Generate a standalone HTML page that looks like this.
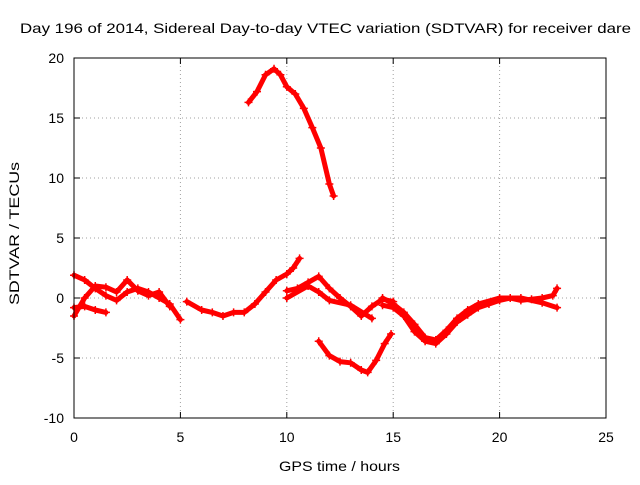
<!DOCTYPE html>
<html><head><meta charset="utf-8"><style>
body{margin:0;background:#fff}
svg text{font-family:"Liberation Sans",sans-serif;font-size:14px;fill:#000}
</style></head><body>
<svg id="chart" width="640" height="480" xmlns="http://www.w3.org/2000/svg">
<rect width="640" height="480" fill="#fff"/>
<text x="20" y="33" textLength="611" lengthAdjust="spacingAndGlyphs">Day 196 of 2014, Sidereal Day-to-day VTEC variation (SDTVAR) for receiver dare</text>
<g id="grid"></g><g id="series"></g><g id="axes"></g>
<text x="279" y="471" textLength="121" lengthAdjust="spacingAndGlyphs">GPS time / hours</text>
<text transform="translate(19,305) rotate(-90)" textLength="143" lengthAdjust="spacingAndGlyphs">SDTVAR / TECUs</text>
</svg>
<script>
const xTicks=[0,5,10,15,20,25];
const yTicks=[-10,-5,0,5,10,15,20];
const seriesX=[
[8.2,8.6,9,9.4,9.7,10,10.4,10.8,11.2,11.6,12,12.2],
[11.5,12,12.5,13,13.5,13.8,14.2,14.6,14.9],
[0,0.5,1,1.5],
[0,0.5,1,1.5,2,2.5,3,3.5,4,4.5,5],
[0,0.5,1,1.5,2,2.5,3,3.5,4,4.5],
[5.3,6,6.5,7,7.5,8,8.5,9,9.5,10,10.3,10.6],
[10,10.5,11,11.5,12,12.5,13,13.5,14,14.5,15],
[10,11,11.5,12,13,14],
[14.5,15,15.5,16,16.5,17,17.5,18,18.5,19,19.5,20,20.5,21,21.5,22,22.5,22.7],
[14.5,15,15.5,16,16.5,17,17.5,18,18.5,19,20,21,22,22.7]];
const seriesY=[
[16.3,17.2,18.6,19.1,18.6,17.6,17,15.8,14.2,12.5,9.5,8.5],
[-3.6,-4.8,-5.3,-5.4,-6.0,-6.2,-5.2,-3.8,-3.0],
[-0.8,-0.7,-1,-1.2],
[1.9,1.5,0.8,0.2,-0.2,0.5,0.8,0.5,0,-0.5,-1.8],
[-1.5,0,1,0.9,0.5,1.5,0.6,0.2,0.5,-0.7],
[-0.3,-1,-1.2,-1.5,-1.2,-1.2,-0.5,0.5,1.5,2,2.5,3.3],
[0.6,0.8,1.3,1.8,0.8,0,-0.7,-1.5,-0.7,-0.1,-0.3],
[0,1,0.5,-0.2,-0.6,-1.7],
[-0.6,-0.8,-1.5,-2.8,-3.6,-3.8,-3.0,-2,-1.4,-0.8,-0.5,-0.2,0,-0.2,-0.1,0,0.2,0.8],
[0,-0.5,-1.2,-2.2,-3.3,-3.5,-2.7,-1.7,-1,-0.5,0,0,-0.4,-0.8]];
const L=74,R=606,T=58,B=418;
const sx=v=>L+(v-0)/25*(R-L), sy=v=>B-(v+10)/30*(B-T);
const NS="http://www.w3.org/2000/svg";
function mk(p,t,a){const e=document.createElementNS(NS,t);for(const k in a)e.setAttribute(k,a[k]);p.appendChild(e);return e;}
const grid=document.getElementById('grid'),axes=document.getElementById('axes'),ser=document.getElementById('series');
xTicks.forEach(t=>{const x=sx(t);
 if(t>0&&t<25){const g=mk(grid,'line',{x1:x,x2:x,y1:T,y2:B,stroke:'#a0a0a0','stroke-dasharray':'1,3'});}
 mk(axes,'line',{x1:x,x2:x,y1:B,y2:B-6,stroke:'#000'});mk(axes,'line',{x1:x,x2:x,y1:T,y2:T+6,stroke:'#000'});
 const l=mk(axes,'text',{x:x,y:B+24,'text-anchor':'middle'});l.textContent=t;
 });
yTicks.forEach(t=>{const y=sy(t);
 if(t>-10&&t<20){const g=mk(grid,'line',{x1:L,x2:R,y1:y,y2:y,stroke:'#a0a0a0','stroke-dasharray':'1,3'});}
 mk(axes,'line',{x1:L,x2:L+6,y1:y,y2:y,stroke:'#000'});mk(axes,'line',{x1:R,x2:R-6,y1:y,y2:y,stroke:'#000'});
 const l=mk(axes,'text',{x:L-10,y:y+5,'text-anchor':'end'});l.textContent=t;
 });
const fr=mk(axes,'rect',{x:L,y:T,width:R-L,height:B-T,fill:'none',stroke:'#000'});

seriesX.forEach((xs,i)=>{const ys=seriesY[i];
 const pl=mk(ser,'polyline',{points:xs.map((x,j)=>sx(x)+','+sy(ys[j])).join(' '),fill:'none',stroke:'#f00','stroke-width':5,'stroke-linejoin':'round','stroke-linecap':'round'});
 
 xs.forEach((x,j)=>{const cx=sx(x),cy=sy(ys[j]);
  const p=mk(ser,'path',{d:`M${cx-4},${cy}H${cx+4}M${cx},${cy-4}V${cy+4}`,stroke:'#f00','stroke-width':1.5});
  });
});
</script>
</body></html>
